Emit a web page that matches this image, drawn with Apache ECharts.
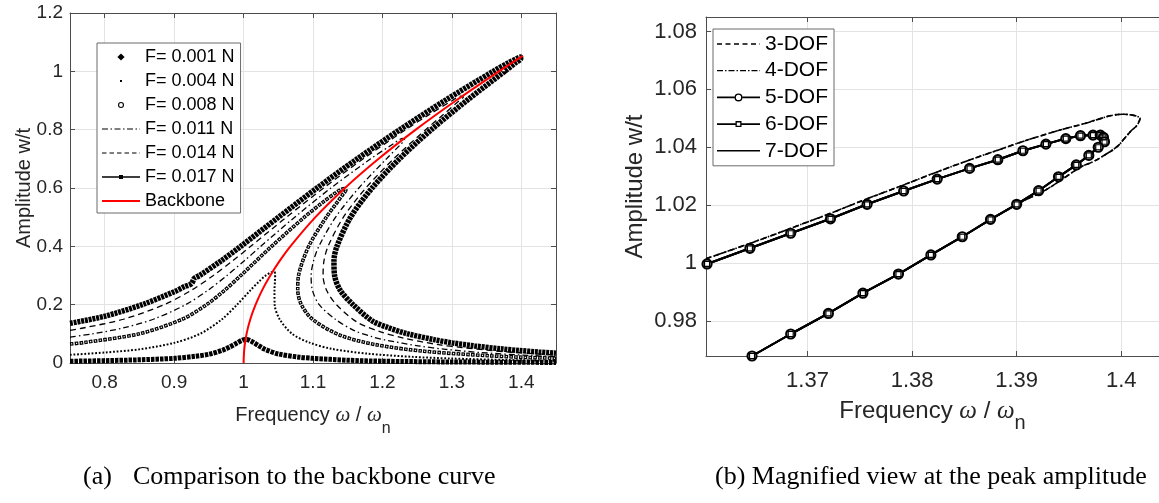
<!DOCTYPE html>
<html>
<head>
<meta charset="utf-8">
<title>Frequency response of the nonlinear beam</title>
<script src="https://cdn.jsdelivr.net/npm/echarts@6/dist/echarts.min.js"></script>
<style>
  html, body { margin: 0; padding: 0; background: #fff; overflow: hidden; }
  #chart { width: 1159px; height: 503px; }
</style>
</head>
<body>
<div id="chart"></div>
<script>
// ---------- data: (a) forced responses for several load levels + backbone ----------
const leftXTicks = [0.8, 0.9, 1, 1.1, 1.2, 1.3, 1.4];
const leftYTicks = [0, 0.2, 0.4, 0.6, 0.8, 1, 1.2];
const forceLabels = ['F= 0.001 N', 'F= 0.004 N', 'F= 0.008 N', 'F= 0.011 N', 'F= 0.014 N', 'F= 0.017 N'];
const backboneLabel = 'Backbone';

// [frequency ratio, amplitude w/t] along each response branch
const resp001 = [[0.75,0.006],[0.80,0.008],[0.85,0.011],[0.90,0.016],[0.93,0.023],[0.95,0.030],[0.97,0.044],[0.98,0.055],[0.99,0.068],[0.997,0.077],[1.002,0.081],[1.007,0.079],[1.013,0.072],[1.02,0.062],[1.03,0.048],[1.05,0.031],[1.08,0.020],[1.10,0.016],[1.15,0.0095],[1.20,0.0062],[1.30,0.0035],[1.45,0.0019]];
const resp004 = [[0.75,0.028],[0.80,0.036],[0.85,0.047],[0.90,0.069],[0.9372,0.10],[0.9689,0.15],[0.9906,0.20],[1.0101,0.25],[1.0226,0.28],[1.032,0.30],[1.039,0.31],[1.044,0.313],[1.0455,0.305],[1.0452,0.28],[1.0445,0.25],[1.0448,0.20],[1.052,0.15],[1.07,0.10],[1.095,0.07],[1.128,0.048],[1.179,0.032],[1.244,0.021],[1.298,0.0155],[1.383,0.0101],[1.45,0.0073]];
const resp008 = [[0.75,0.065],[0.7696,0.07],[0.8496,0.10],[0.9116,0.15],[0.9467,0.20],[0.973,0.25],[0.996,0.30],[1.0404,0.40],[1.0876,0.50],[1.1136,0.55],[1.1305,0.58],[1.1403,0.595],[1.146,0.598],[1.1474,0.592],[1.1436,0.58],[1.1345,0.55],[1.1192,0.50],[1.0938,0.40],[1.0792,0.30],[1.078,0.25],[1.0832,0.20],[1.0992,0.15],[1.1382,0.096],[1.19,0.063],[1.2572,0.041],[1.352,0.025],[1.4027,0.0196],[1.45,0.0162]];
const resp011 = [[0.75,0.089],[0.7822,0.10],[0.8263,0.12],[0.870,0.15],[0.9165,0.20],[0.9491,0.25],[0.9761,0.30],[1.0008,0.35],[1.0248,0.40],[1.0737,0.50],[1.1259,0.60],[1.1831,0.70],[1.2148,0.75],[1.2295,0.77],[1.2318,0.765],[1.2264,0.75],[1.2058,0.70],[1.166,0.60],[1.1326,0.50],[1.1084,0.40],[1.1008,0.35],[1.0973,0.30],[1.0991,0.25],[1.1089,0.20],[1.1323,0.15],[1.1586,0.112],[1.1855,0.090],[1.2035,0.079],[1.254,0.058],[1.291,0.047],[1.341,0.036],[1.4135,0.0256],[1.45,0.022]];
const resp014 = [[0.75,0.112],[0.769,0.12],[0.8268,0.15],[0.8857,0.20],[0.9251,0.25],[0.9565,0.30],[0.9841,0.35],[1.0103,0.40],[1.0618,0.50],[1.1153,0.60],[1.1723,0.70],[1.2335,0.80],[1.2661,0.85],[1.3008,0.90],[1.3128,0.915],[1.3165,0.912],[1.311,0.90],[1.2868,0.85],[1.2623,0.80],[1.2162,0.70],[1.1761,0.60],[1.1438,0.50],[1.1217,0.40],[1.1158,0.35],[1.1145,0.30],[1.1194,0.25],[1.1337,0.20],[1.1643,0.139],[1.1974,0.107],[1.2309,0.085],[1.2803,0.063],[1.3148,0.053],[1.3597,0.042],[1.3876,0.0368],[1.4204,0.0316],[1.45,0.0279]];
const resp017 = [[0.75,0.136],[0.7994,0.16],[0.854,0.20],[0.9008,0.245],[0.915,0.262],[0.925,0.272],[0.929,0.290],[0.9367,0.30],[0.9675,0.35],[0.9959,0.40],[1.0504,0.50],[1.1058,0.60],[1.1637,0.70],[1.2251,0.80],[1.2901,0.90],[1.3596,1.00],[1.382,1.03],[1.3945,1.045],[1.3985,1.049],[1.3992,1.044],[1.3921,1.03],[1.3761,1.00],[1.3216,0.90],[1.2704,0.80],[1.2245,0.70],[1.1851,0.60],[1.1542,0.50],[1.1345,0.40],[1.1302,0.35],[1.1311,0.30],[1.139,0.25],[1.1577,0.20],[1.1856,0.144],[1.2065,0.123],[1.2349,0.101],[1.2745,0.080],[1.3005,0.069],[1.3326,0.0586],[1.3729,0.048],[1.3972,0.0428],[1.425,0.0376],[1.45,0.0336]];
const backbone = [[1.0,0],[1.0011,0.05],[1.0043,0.10],[1.0097,0.15],[1.0173,0.20],[1.0268,0.25],[1.0385,0.30],[1.052,0.35],[1.0674,0.40],[1.1035,0.50],[1.1461,0.60],[1.1945,0.70],[1.248,0.80],[1.306,0.90],[1.3678,1.00],[1.4021,1.053]];

// ---------- data: (b) peak region for increasing model order ----------
const rightXTicks = [1.37, 1.38, 1.39, 1.4];
const rightYTicks = [0.98, 1, 1.02, 1.04, 1.06, 1.08];
const dofLabels = ['3-DOF', '4-DOF', '5-DOF', '6-DOF', '7-DOF'];

const dof3 = [[1.3603,1.0015],[1.3645,1.0068],[1.3684,1.0120],[1.3722,1.0172],[1.3757,1.0222],[1.3792,1.0270],[1.3824,1.0315],[1.3855,1.0356],[1.3882,1.0390],[1.3906,1.0420],[1.3928,1.0445],[1.3947,1.0465],[1.3965,1.0482],[1.3980,1.0499],[1.3991,1.0510],[1.4001,1.0514],[1.4009,1.0512],[1.4015,1.0507],[1.4018,1.0499],[1.4017,1.0489],[1.4015,1.0475],[1.4009,1.0455],[1.4003,1.0430],[1.3996,1.0402],[1.3985,1.0375],[1.3973,1.0350],[1.3962,1.0333],[1.3947,1.0298],[1.3928,1.0253],[1.3904,1.0210],[1.3876,1.0152],[1.3848,1.0091],[1.3818,1.0028],[1.3787,0.9962],[1.3753,0.9896],[1.3720,0.9826],[1.3684,0.9755],[1.3647,0.9679]];
const dof4 = [[1.3603,1.0015],[1.3645,1.0068],[1.3684,1.0120],[1.3722,1.0172],[1.3757,1.0222],[1.3792,1.0270],[1.3824,1.0315],[1.3855,1.0356],[1.3882,1.0390],[1.3906,1.0420],[1.3928,1.0445],[1.3947,1.0465],[1.3965,1.0482],[1.3980,1.0499],[1.3991,1.0510],[1.4001,1.0514],[1.4009,1.0512],[1.4015,1.0507],[1.4018,1.0499],[1.4017,1.0489],[1.4015,1.0475],[1.4009,1.0455],[1.4003,1.0430],[1.3996,1.0402],[1.3985,1.0375],[1.3973,1.0350],[1.3962,1.0333],[1.3947,1.0298],[1.3928,1.0253],[1.3904,1.0210],[1.3876,1.0152],[1.3848,1.0091],[1.3818,1.0028],[1.3787,0.9962],[1.3753,0.9896],[1.3720,0.9826],[1.3684,0.9755],[1.3647,0.9679]];
const dof5 = [[1.3604,0.9997],[1.3645,1.0051],[1.3684,1.0103],[1.3722,1.0153],[1.3757,1.0203],[1.3792,1.0249],[1.3824,1.0290],[1.3855,1.0327],[1.3882,1.0357],[1.3906,1.0388],[1.3928,1.0411],[1.3947,1.0430],[1.3961,1.0440],[1.3973,1.0442],[1.3980,1.0442],[1.3983,1.0434],[1.3984,1.0419],[1.3978,1.0400],[1.3969,1.0372],[1.3957,1.0339],[1.3940,1.0298],[1.3921,1.0250],[1.3900,1.0203],[1.3875,1.0151],[1.3848,1.0091],[1.3818,1.0028],[1.3787,0.9962],[1.3753,0.9896],[1.3720,0.9826],[1.3684,0.9755],[1.3647,0.9679]];
const dof6 = [[1.3604,0.9997],[1.3645,1.0051],[1.3684,1.0103],[1.3722,1.0153],[1.3757,1.0203],[1.3792,1.0249],[1.3824,1.0290],[1.3855,1.0327],[1.3882,1.0357],[1.3906,1.0388],[1.3928,1.0411],[1.3947,1.0430],[1.3961,1.0440],[1.3973,1.0442],[1.3980,1.0442],[1.3983,1.0434],[1.3984,1.0419],[1.3978,1.0400],[1.3969,1.0372],[1.3957,1.0339],[1.3940,1.0298],[1.3921,1.0250],[1.3900,1.0203],[1.3875,1.0151],[1.3848,1.0091],[1.3818,1.0028],[1.3787,0.9962],[1.3753,0.9896],[1.3720,0.9826],[1.3684,0.9755],[1.3647,0.9679]];
const dof7 = [[1.3604,0.9997],[1.3645,1.0051],[1.3684,1.0103],[1.3722,1.0153],[1.3757,1.0203],[1.3792,1.0249],[1.3824,1.0290],[1.3855,1.0327],[1.3882,1.0357],[1.3906,1.0388],[1.3928,1.0411],[1.3947,1.0430],[1.3961,1.0440],[1.3973,1.0442],[1.3980,1.0442],[1.3983,1.0434],[1.3984,1.0419],[1.3978,1.0400],[1.3969,1.0372],[1.3957,1.0339],[1.3940,1.0298],[1.3921,1.0250],[1.3900,1.0203],[1.3875,1.0151],[1.3848,1.0091],[1.3818,1.0028],[1.3787,0.9962],[1.3753,0.9896],[1.3720,0.9826],[1.3684,0.9755],[1.3647,0.9679]];

const captionA = '(a)';
const captionAText = 'Comparison to the backbone curve';
const captionB = '(b) Magnified view at the peak amplitude';
const yName = 'Amplitude w/t';
const xName = 'Frequency {w|\u03c9} / {w|\u03c9}{s|n}';

// ---------- styling ----------
const SANS = "'Liberation Sans', Arial, sans-serif";
const SERIF = "'Liberation Serif', 'Times New Roman', serif";
const AXIS = '#4d4d4d', GRID = '#e3e3e3', TEXT = '#262626';

// small path builders for the legend glyphs
const rect = (x, y, w, h) => `M${x},${y}h${w}v${h}h${-w}Z`;
const rectHole = (x, y, w, h) => `M${x},${y}v${h}h${w}v${-h}Z`;
const ring = (cx, cy, r1, r2) =>
  `M${cx - r1},${cy}A${r1},${r1},0,1,0,${cx + r1},${cy}A${r1},${r1},0,1,0,${cx - r1},${cy}Z` +
  `M${cx - r2},${cy}A${r2},${r2},0,1,1,${cx + r2},${cy}A${r2},${r2},0,1,1,${cx - r2},${cy}Z`;
function dashRow(w, cy, th, pattern) {
  let d = '', x = 0, k = 0;
  while (x < w) {
    const len = pattern[k % pattern.length];
    if (k % 2 === 0) d += rect(x, cy - th / 2, Math.min(x + len, w) - x, th);
    x += len; k++;
  }
  return d;
}
const framed = (w, h, body) => `path://M0,0M${w},${h}${body}`;

const LW = 38, LH = 14, RW = 43, RH = 16;
const leftIcons = [
  framed(LW, LH, `M19,3.4L22.6,7L19,10.6L15.4,7Z`),
  framed(LW, LH, rect(18, 6, 2, 2)),
  framed(LW, LH, ring(19, 7, 3, 1.9)),
  framed(LW, LH, dashRow(LW, 7, 1.2, [6, 2.5, 1.5, 2.5])),
  framed(LW, LH, dashRow(LW, 7, 1.2, [4.5, 3])),
  framed(LW, LH, rect(0, 6.3, LW, 1.4) + rect(17, 5, 4, 4)),
  framed(LW, LH, rect(0, 6, LW, 2))
];
const rightIcons = [
  framed(RW, RH, dashRow(RW, 8, 1.3, [5, 3.5])),
  framed(RW, RH, dashRow(RW, 8, 1.3, [6, 2, 1.5, 2])),
  framed(RW, RH, rect(0, 7.2, 17.5, 1.6) + rect(25.5, 7.2, 17.5, 1.6) + ring(21.5, 8, 4, 2.6)),
  framed(RW, RH, rect(0, 7.2, 18.5, 1.6) + rect(24.5, 7.2, 18.5, 1.6) + rect(18.5, 5, 6, 6) + rectHole(19.8, 6.3, 3.4, 3.4)),
  framed(RW, RH, rect(0, 7.2, RW, 1.6))
];

function valueAxis(gridIndex, position, min, max, ticks, opts) {
  const o = opts || {};
  return {
    type: 'value', gridIndex, position, min, max,
    axisLine: { show: true, onZero: false, lineStyle: { color: AXIS, width: 1 } },
    axisTick: { show: true, inside: true, length: 5, customValues: ticks, lineStyle: { color: AXIS, width: 1 } },
    axisLabel: {
      show: !!o.labels, customValues: ticks, fontFamily: SANS, fontSize: o.fontSize || 19,
      color: TEXT, margin: o.margin || 8
    },
    splitLine: { show: !!o.labels, lineStyle: { color: GRID, width: 1 } },
    name: o.name || '', nameLocation: 'middle', nameGap: o.nameGap || 30,
    nameRotate: o.nameRotate, nameMoveOverlap: false,
    nameTextStyle: o.nameTextStyle || {}
  };
}

function xTitleStyle(size) {
  return {
    fontFamily: SANS, fontSize: size, color: TEXT, lineHeight: 44,
    rich: {
      w: { fontFamily: SERIF, fontStyle: 'italic', fontSize: size + 1, color: TEXT, lineHeight: 44 },
      s: { fontFamily: SANS, fontSize: size - 4, color: TEXT, lineHeight: 18, verticalAlign: 'bottom' }
    }
  };
}

function line(name, data, xi, yi, lineStyle, extra) {
  return Object.assign({
    type: 'line', name, data, xAxisIndex: xi, yAxisIndex: yi,
    showSymbol: false, symbol: 'none', smooth: 0.3, clip: true,
    silent: true, animation: false, emphasis: { disabled: true },
    itemStyle: { color: lineStyle.color || '#000' },
    lineStyle: Object.assign({ color: '#000', cap: 'butt' }, lineStyle)
  }, extra || {});
}

const legendBase = {
  orient: 'vertical', backgroundColor: '#fff', borderColor: '#6b6b6b', borderWidth: 1,
  selectedMode: false, itemStyle: { borderWidth: 0 }
};

const option = {
  animation: false,
  backgroundColor: '#fff',
  title: [
    {
      text: `{p|${captionA}}${captionAText}`, left: 83, top: 464, padding: 0,
      textStyle: {
        fontFamily: SERIF, fontSize: 26, fontWeight: 'normal', color: '#000',
        rich: { p: { fontFamily: SERIF, fontSize: 26, color: '#000', width: 50 } }
      }
    },
    {
      text: captionB, left: 715, top: 464, padding: 0,
      textStyle: { fontFamily: SERIF, fontSize: 26, fontWeight: 'normal', color: '#000' }
    }
  ],
  grid: [
    { left: 70, top: 13, width: 486, height: 350, containLabel: false, outerBoundsMode: 'none' },
    { left: 706, top: 17, width: 453, height: 339, containLabel: false, outerBoundsMode: 'none' }
  ],
  xAxis: [
    valueAxis(0, 'bottom', 0.75, 1.45, leftXTicks, {
      labels: true, fontSize: 19, margin: 10, name: xName, nameGap: 30, nameTextStyle: xTitleStyle(20)
    }),
    valueAxis(0, 'top', 0.75, 1.45, leftXTicks),
    valueAxis(1, 'bottom', 1.3603, 1.40361, rightXTicks, {
      labels: true, fontSize: 22, margin: 14, name: xName, nameGap: 33, nameTextStyle: xTitleStyle(24)
    }),
    valueAxis(1, 'top', 1.3603, 1.40361, rightXTicks)
  ],
  yAxis: [
    valueAxis(0, 'left', 0, 1.2, leftYTicks, {
      labels: true, fontSize: 19, margin: 7, name: yName, nameGap: 36, nameRotate: 90,
      nameTextStyle: { fontFamily: SANS, fontSize: 20, color: TEXT }
    }),
    valueAxis(0, 'right', 0, 1.2, leftYTicks),
    valueAxis(1, 'left', 0.9679, 1.0850, rightYTicks, {
      labels: true, fontSize: 22, margin: 9, name: yName, nameGap: 59, nameRotate: 90,
      nameTextStyle: { fontFamily: SANS, fontSize: 24, color: TEXT }
    })
  ],
  legend: [
    Object.assign({}, legendBase, {
      left: 97, top: 43, padding: [4, 6, 2, 5], itemGap: 4,
      itemWidth: LW, itemHeight: LH,
      textStyle: { fontFamily: SANS, fontSize: 18, color: '#000', lineHeight: 20 },
      data: forceLabels.concat([backboneLabel]).map((n, i) => ({ name: n, icon: leftIcons[i] }))
    }),
    Object.assign({}, legendBase, {
      left: 713, top: 29, padding: [4, 6, 4, 4], itemGap: 4.7,
      itemWidth: RW, itemHeight: RH,
      textStyle: { fontFamily: SANS, fontSize: 21, color: '#000', lineHeight: 22 },
      data: dofLabels.map((n, i) => ({ name: n, icon: rightIcons[i], itemStyle: { color: '#000', borderWidth: 0 } }))
    })
  ],
  series: [
    // (a) responses
    line(forceLabels[0], resp001, 0, 0, { width: 5, type: [3.5, 1] }),
    line(forceLabels[1], resp004, 0, 0, { width: 2, type: [1.8, 1.8] }),
    line(forceLabels[2], resp008, 0, 0, { width: 3.6, type: [3.6, 1.2] }),
    line(forceLabels[2] + ' rim', resp008, 0, 0, { color: '#fff', width: 1.3, type: [1.2, 3.6], dashOffset: -1.2 }),
    line(forceLabels[3], resp011, 0, 0, { width: 1.3, type: [6, 3, 1.5, 3] }),
    line(forceLabels[4], resp014, 0, 0, { width: 1.3, type: [6, 4] }),
    line(forceLabels[5], resp017, 0, 0, { width: 5.5, type: [3, 0.8] }),
    line(backboneLabel, backbone, 0, 0, { color: '#ff0000', width: 2 }),
    // (b) peak region
    line(dofLabels[0], dof3, 2, 2, { width: 1.6, type: [5, 3.5] }, { smooth: 0.4 }),
    line(dofLabels[1], dof4, 2, 2, { width: 1.6, type: [6, 2, 1.5, 2] }, { smooth: 0.4 }),
    line(dofLabels[2], dof5, 2, 2, { width: 2 }, {
      smooth: false, showSymbol: true, symbol: 'circle', symbolSize: 9,
      itemStyle: { color: '#fff', borderColor: '#000', borderWidth: 2.2 }
    }),
    line(dofLabels[3], dof6, 2, 2, { width: 2 }, {
      smooth: false, showSymbol: true, symbol: 'rect', symbolSize: 5,
      itemStyle: { color: 'rgba(0,0,0,0)', borderColor: '#000', borderWidth: 1.2 }
    }),
    line(dofLabels[4], dof7, 2, 2, { width: 2 }, { smooth: false })
  ]
};

const chart = echarts.init(document.getElementById('chart'));
chart.setOption(option);
</script>
</body>
</html>
